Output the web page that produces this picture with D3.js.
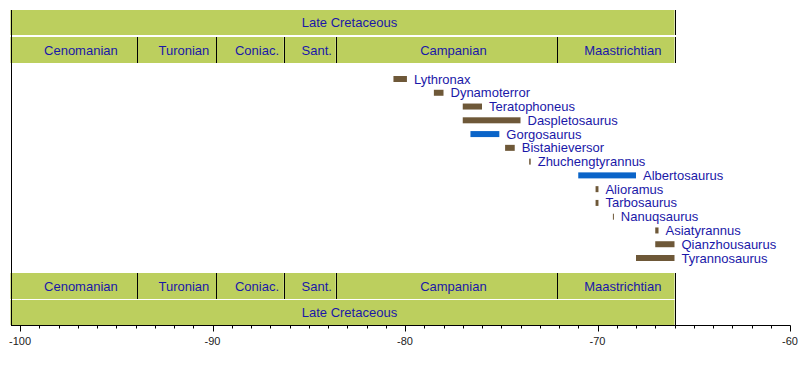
<!DOCTYPE html>
<html>
<head>
<meta charset="utf-8">
<script src="https://cdn.jsdelivr.net/npm/d3@7"></script>
<style>
  body { margin: 0; background: #fff; }
  text { font-family: "Liberation Sans", Arial, Helvetica, sans-serif; }
</style>
</head>
<body>
<svg id="chart" width="800" height="375"></svg>
<script>
// geologic stages (Ma, negative = before present)
const stageNames = ["Cenomanian", "Turonian", "Coniac.", "Sant.", "Campanian", "Maastrichtian"];
const stageStart = [-100.5, -93.9, -89.8, -86.3, -83.6, -72.1];
const stageEnd   = [-93.9, -89.8, -86.3, -83.6, -72.1, -66.0];

const epochName = "Late Cretaceous";
const epochStart = -100.5;
const epochEnd = -66.0;

// taxa and their ranges
const taxa = ["Lythronax", "Dynamoterror", "Teratophoneus", "Daspletosaurus", "Gorgosaurus",
  "Bistahieversor", "Zhuchengtyrannus", "Albertosaurus", "Alioramus", "Tarbosaurus",
  "Nanuqsaurus", "Asiatyrannus", "Qianzhousaurus", "Tyrannosaurus"];
const taxonStart = [-80.6, -78.5, -77.0, -77.0, -76.6, -74.8, -73.55, -71.0, -70.1, -70.1, -69.2, -67.0, -67.0, -68.0];
const taxonEnd   = [-79.9, -78.0, -76.0, -74.0, -75.1, -74.3, -73.47, -68.0, -69.95, -69.95, -69.15, -66.83, -66.0, -66.0];
const taxonGroup = ["tyrannosaurine", "tyrannosaurine", "tyrannosaurine", "tyrannosaurine", "albertosaurine",
  "tyrannosaurine", "tyrannosaurine", "albertosaurine", "tyrannosaurine", "tyrannosaurine",
  "tyrannosaurine", "tyrannosaurine", "tyrannosaurine", "tyrannosaurine"];

const svg = d3.select("#chart");

const x = d3.scaleLinear().domain([-100, -60]).range([20, 790]);
const y = d3.scalePoint().domain(taxa).range([79, 258]);
const color = d3.scaleOrdinal()
  .domain(["tyrannosaurine", "albertosaurine"])
  .range(["#6e5838", "#0a64c8"]);

const green = "#bccf5e";
const textColor = "#1a18a8";
const axisY = 325.5;

// period bands: top (epoch then stages) and bottom (stages then epoch)
const bands = [
  { y0: 10, y1: 35, kind: "epoch" },
  { y0: 37, y1: 63, kind: "stage" },
  { y0: 273, y1: 299, kind: "stage" },
  { y0: 300, y1: 325, kind: "epoch" }
];

const stages = stageNames.map((n, i) => ({ name: n, start: stageStart[i], end: stageEnd[i] }));

bands.forEach(b => {
  const g = svg.append("g");
  const items = b.kind === "epoch"
    ? [{ name: epochName, start: epochStart, end: epochEnd }]
    : stages;

  g.selectAll("rect")
    .data(items)
    .enter().append("rect")
    .attr("x", d => x(d.start))
    .attr("y", b.y0)
    .attr("width", d => x(d.end) - x(d.start))
    .attr("height", b.y1 - b.y0)
    .attr("fill", green);

  g.selectAll("text")
    .data(items)
    .enter().append("text")
    .attr("x", d => (x(d.start) + x(d.end)) / 2 + 7)
    .attr("y", (b.y0 + b.y1) / 2)
    .attr("dy", "0.35em")
    .attr("text-anchor", "middle")
    .attr("font-size", 13)
    .attr("fill", textColor)
    .text(d => d.name);

  // black dividers at the end of each item
  g.selectAll("line")
    .data(items)
    .enter().append("line")
    .attr("x1", d => Math.round(x(d.end)) + 0.5)
    .attr("x2", d => Math.round(x(d.end)) + 0.5)
    .attr("y1", b.y0)
    .attr("y2", b.y1)
    .attr("stroke", "#000")
    .attr("stroke-width", 1);
});

// right edge line of the bottom block down to the axis
svg.append("line")
  .attr("x1", Math.round(x(epochEnd)) + 0.5)
  .attr("x2", Math.round(x(epochEnd)) + 0.5)
  .attr("y1", 299).attr("y2", 300)
  .attr("stroke", "#000");

// left frame line
svg.append("line")
  .attr("x1", 11.5).attr("x2", 11.5)
  .attr("y1", 10).attr("y2", axisY)
  .attr("stroke", "#000");

// taxon bars
const rows = taxa.map((n, i) => ({ name: n, start: taxonStart[i], end: taxonEnd[i], group: taxonGroup[i] }));

svg.append("g").selectAll("rect")
  .data(rows)
  .enter().append("rect")
  .attr("x", d => x(d.start))
  .attr("y", d => y(d.name) - 3)
  .attr("width", d => Math.max(1, x(d.end) - x(d.start)))
  .attr("height", 6)
  .attr("fill", d => color(d.group));

svg.append("g").selectAll("text")
  .data(rows)
  .enter().append("text")
  .attr("x", d => x(d.end) + 7)
  .attr("y", d => y(d.name))
  .attr("dy", "0.35em")
  .attr("font-size", 13)
  .attr("fill", textColor)
  .text(d => d.name);

// bottom axis
const axis = svg.append("g").attr("transform", `translate(0,${axisY})`);
axis.append("line")
  .attr("x1", 11).attr("x2", x(-60) + 0.5)
  .attr("stroke", "#000");

axis.selectAll("line.minor")
  .data(d3.range(-100, -59, 1))
  .enter().append("line")
  .attr("class", "minor")
  .attr("x1", d => Math.round(x(d)) + 0.5)
  .attr("x2", d => Math.round(x(d)) + 0.5)
  .attr("y1", 0)
  .attr("y2", d => d % 10 === 0 ? 6 : 3)
  .attr("stroke", "#000");

axis.selectAll("text")
  .data(d3.range(-100, -59, 10))
  .enter().append("text")
  .attr("x", d => x(d))
  .attr("y", 16)
  .attr("dy", "0.35em")
  .attr("text-anchor", "middle")
  .attr("font-size", 11)
  .attr("fill", "#222")
  .text(d => d);
</script>
</body>
</html>
